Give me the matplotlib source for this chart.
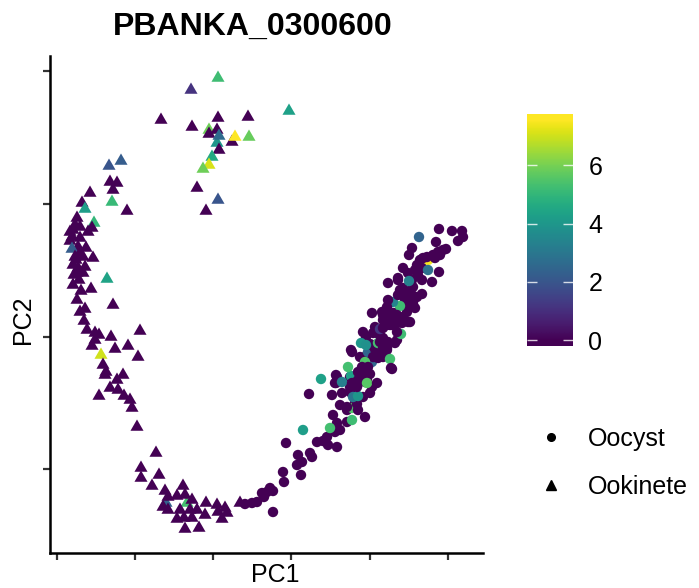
import numpy as np
import matplotlib
matplotlib.use("Agg")
import matplotlib.pyplot as plt
from matplotlib.colors import Normalize
from matplotlib.lines import Line2D
from matplotlib.path import Path

plt.rcParams['font.family'] = ['Liberation Sans', 'DejaVu Sans']

title = "PBANKA_0300600"
x_label = "PC1"
y_label = "PC2"
legend_labels = ["Oocyst", "Ookinete"]
cbar_ticks = [0, 2, 4, 6]
expr_max = 7.56

# Ookinete cells (triangles): PC1, PC2, expression
ookinete = [
    (20.9, -13.0, 5.9), (16.6, -50.3, 2.3), (18.7, -50.3, 5.3), (9.4, -22.3, 5.0),
    (21.8, -7.8, 5.2), (19.1, -9.0, 1.1), (16.1, -12.0, 0), (19.2, -12.7, 0), (21.8, -11.8, 0),
    (21.7, -13.0, 0), (20.9, -13.4, 0), (21.7, -14.3, 4.0), (21.9, -13.6, 2.6), (24.8, -11.7, 0),
    (28.9, -11.1, 4.3), (23.2, -14.2, 0), (23.5, -13.7, 7.56), (24.9, -13.7, 5.8), (21.9, -15.0, 0),
    (21.2, -15.7, 4.6), (20.9, -16.5, 7.1), (20.3, -16.9, 5.9), (19.7, -18.8, 0), (21.8, -20.0, 2.0),
    (20.6, -21.1, 0),
    (10.9, -16.6, 2.0), (12.1, -16.1, 2.2), (11.0, -18.2, 0), (11.7, -18.3, 0), (11.3, -19.0, 0),
    (9.0, -19.3, 0), (11.2, -20.2, 5.1), (8.2, -20.3, 0), (8.5, -20.9, 4.2), (12.7, -21.1, 0),
    (7.7, -21.8, 0), (7.5, -22.5, 0), (8.0, -22.7, 0), (9.2, -22.8, 0), (8.8, -23.2, 0),
    (7.3, -23.0, 0), (7.0, -23.2, 0), (7.2, -23.7, 0), (8.0, -23.8, 0), (7.0, -24.1, 0),
    (8.6, -24.8, 0), (7.8, -24.7, 0), (7.2, -24.9, 2.2), (8.0, -25.3, 0), (7.5, -25.7, 0),
    (8.3, -25.7, 0), (9.3, -25.8, 0), (7.6, -26.0, 0), (7.3, -26.5, 0), (7.8, -26.8, 0),
    (8.5, -26.7, 0), (7.7, -27.3, 0), (8.3, -27.3, 0), (7.4, -27.5, 0), (7.9, -28.0, 0),
    (10.7, -27.9, 4.4), (7.3, -28.5, 0), (8.1, -29.1, 0), (9.1, -28.9, 0), (7.7, -30.0, 0),
    (11.3, -30.5, 0), (8.5, -30.9, 0), (8.0, -31.2, 0), (8.4, -32.1, 0), (8.7, -33.0, 0),
    (9.5, -33.3, 0), (9.9, -33.5, 0), (9.5, -34.0, 0), (11.1, -33.7, 0), (9.2, -34.6, 0),
    (14.0, -33.1, 0), (11.5, -34.9, 0), (12.8, -34.6, 0), (13.8, -35.7, 0), (10.1, -35.5, 7.0),
    (10.3, -36.5, 0), (10.6, -37.2, 0), (10.5, -37.5, 0), (12.3, -37.5, 0), (11.7, -38.0, 0),
    (11.0, -38.8, 0), (11.8, -39.0, 0), (9.9, -39.6, 0), (12.4, -39.6, 0), (13.0, -40.0, 0),
    (13.2, -40.8, 0), (13.7, -42.7, 0),
    (15.6, -45.3, 0), (14.1, -46.8, 0), (15.9, -47.5, 0), (14.1, -47.8, 0), (15.2, -48.6, 0),
    (16.5, -49.1, 0), (18.3, -48.6, 0), (16.8, -49.7, 0), (17.7, -49.6, 0), (18.5, -49.5, 0),
    (19.2, -50.0, 0), (16.3, -50.7, 0), (16.8, -51.0, 0), (18.0, -51.0, 0), (19.0, -51.0, 0),
    (19.7, -51.0, 0), (20.6, -50.3, 0), (21.7, -50.5, 0), (22.5, -50.8, 0), (20.5, -51.5, 0),
    (21.8, -51.2, 0), (22.7, -51.3, 0), (17.7, -51.9, 0), (18.4, -51.8, 0), (19.2, -51.8, 0),
    (22.2, -51.9, 0), (18.5, -52.9, 0), (19.9, -52.8, 0), (24.0, -50.3, 0),
]

# Oocyst cells (circles): PC1, PC2, expression
oocyst = [
    (42.8, -26.0, 7.5), (36.5, -35.7, 6.5),
    (24.5, -50.4, 0), (25.2, -50.3, 0), (25.7, -50.2, 0), (26.2, -49.3, 0), (26.7, -49.2, 0),
    (27.3, -49.1, 0), (27.3, -51.2, 0), (27.0, -48.8, 0), (26.4, -49.7, 0), (28.3, -47.2, 0),
    (28.4, -48.2, 0), (30.1, -47.5, 0), (29.7, -46.5, 0), (30.2, -46.2, 0), (31.0, -45.3, 0),
    (31.2, -45.7, 0), (28.6, -44.3, 0), (29.8, -45.5, 0), (31.7, -44.2, 0), (32.3, -44.1, 0),
    (32.7, -43.7, 0), (32.8, -44.5, 0), (33.7, -44.7, 0), (30.3, -43.0, 4.2), (30.9, -39.4, 0),
    (32.1, -37.9, 4.3), (33.7, -37.7, 0), (33.5, -38.3, 0), (33.2, -39.5, 0), (34.2, -39.3, 0),
    (35.0, -38.7, 0), (36.0, -37.7, 0), (35.0, -37.7, 0), (34.0, -40.5, 0), (34.7, -41.0, 0),
    (33.3, -41.5, 0), (33.7, -42.3, 0), (33.5, -43.2, 0), (34.0, -43.0, 0), (33.0, -42.8, 5.3),
    (34.7, -42.2, 0), (35.5, -40.3, 0), (35.2, -40.8, 5.5), (35.2, -42.0, 5.2), (36.5, -41.7, 0),
    (35.8, -41.0, 0), (36.3, -39.7, 0), (36.7, -38.0, 0), (35.0, -39.2, 0), (37.0, -39.3, 0),
    (35.7, -40.4, 0), (34.7, -40.7, 0), (35.3, -39.7, 3.0), (35.8, -39.6, 4.0), (33.6, -37.5, 0),
    (36.0, -37.3, 0), (36.6, -37.3, 0), (37.0, -37.4, 0), (33.6, -38.3, 0), (35.1, -37.6, 4.3),
    (34.2, -38.2, 3.2), (35.2, -38.3, 0), (35.7, -38.7, 0), (36.5, -38.2, 0), (37.2, -38.7, 0),
    (35.8, -38.0, 0), (36.7, -38.3, 5.6), (34.8, -36.7, 5.3), (35.8, -37.2, 0),
    (35.2, -35.2, 0), (36.0, -35.7, 0), (36.7, -35.5, 0), (35.1, -35.0, 0), (36.8, -35.2, 2.5),
    (37.2, -36.2, 2.5), (37.8, -35.8, 0), (38.3, -35.7, 0), (38.7, -35.0, 0), (38.0, -35.0, 0),
    (38.7, -34.8, 0), (37.3, -35.7, 0), (38.0, -35.5, 0), (39.0, -35.9, 5.3), (39.1, -36.8, 0),
    (39.2, -36.9, 0), (37.7, -38.3, 0), (36.5, -36.2, 5.5), (36.8, -36.7, 0), (36.2, -36.7, 0),
    (36.3, -33.2, 0), (36.6, -33.7, 0), (37.2, -34.5, 0), (37.7, -34.5, 0), (37.5, -34.9, 0),
    (37.0, -34.4, 0), (36.1, -34.3, 4.0), (36.6, -34.5, 3.8), (37.8, -34.3, 5.3), (39.7, -34.0, 0),
    (38.8, -34.2, 0), (38.3, -34.8, 0), (39.5, -34.3, 0), (38.7, -34.3, 0), (38.0, -34.2, 0),
    (40.1, -33.4, 5.2), (39.7, -33.2, 0), (37.3, -33.3, 0), (38.0, -33.5, 0), (38.3, -33.8, 0),
    (37.7, -33.3, 0), (37.5, -32.7, 0), (38.0, -32.9, 1.2), (38.3, -32.8, 0), (39.0, -32.5, 0),
    (39.2, -32.5, 0), (38.7, -32.5, 0), (39.7, -32.3, 0), (40.2, -32.3, 0), (41.0, -32.2, 0),
    (40.0, -31.7, 0), (40.3, -31.8, 0), (39.2, -31.7, 0), (38.3, -32.0, 0), (37.2, -31.3, 0),
    (38.2, -31.2, 0), (38.5, -31.2, 0), (39.3, -31.3, 0), (39.5, -31.3, 0), (40.7, -31.2, 0),
    (40.8, -30.8, 0), (41.5, -30.8, 0), (41.3, -30.3, 0), (40.5, -30.0, 0), (41.0, -30.3, 0),
    (40.0, -30.6, 5.2), (39.3, -30.2, 3.4), (38.8, -30.0, 0), (38.7, -30.7, 0), (38.3, -31.5, 0),
    (39.7, -31.5, 0), (40.8, -32.2, 0), (39.8, -29.5, 0), (40.0, -29.0, 0), (40.7, -29.3, 0),
    (41.2, -29.5, 0), (41.3, -28.7, 0), (40.3, -28.8, 0), (42.2, -29.4, 0), (41.7, -29.7, 0),
    (39.8, -28.0, 0), (38.8, -28.3, 0), (39.8, -27.8, 0), (40.3, -26.8, 0), (40.8, -27.3, 0),
    (41.5, -27.0, 0), (41.8, -27.5, 0), (41.2, -28.0, 0), (42.2, -28.0, 0), (43.2, -28.2, 0),
    (40.9, -28.1, 3.3),
    (43.9, -22.9, 0), (45.2, -23.1, 0), (46.2, -23.1, 0), (46.3, -23.7, 0), (45.8, -24.1, 0),
    (41.9, -23.7, 2.4), (43.6, -24.2, 0), (44.6, -24.9, 0), (43.8, -25.2, 0), (41.2, -24.8, 0),
    (40.9, -25.5, 0), (42.0, -26.0, 0), (42.7, -25.7, 0), (43.3, -25.5, 0), (44.0, -25.5, 0),
    (44.3, -25.0, 0), (43.5, -25.8, 0), (42.3, -25.8, 0), (42.2, -26.8, 0), (41.7, -26.5, 0),
    (43.9, -27.2, 0), (42.8, -27.0, 2.8),
]

ook = np.array(ookinete)
ooc = np.array(oocyst)

W, H = 699, 588
fig = plt.figure(figsize=(W / 100, H / 100), dpi=100)
ax = fig.add_axes([50 / W, 1 - 553 / H, (483 - 50) / W, (553 - 56) / H])

norm = Normalize(0, expr_max)
cmap = plt.get_cmap('viridis')

tri = Path([(-1, -0.577), (1, -0.577), (0, 1.155), (-1, -0.577)],
           [Path.MOVETO, Path.LINETO, Path.LINETO, Path.CLOSEPOLY])

ax.scatter(ooc[:, 0], ooc[:, 1], c=ooc[:, 2], cmap=cmap, norm=norm, s=56,
           marker='o', linewidths=0)
ax.scatter(ook[:, 0], ook[:, 1], c=ook[:, 2], cmap=cmap, norm=norm, s=118,
           marker=tri, linewidths=0)

ax.set_xlim(5.0, 48.3)
ax.set_ylim(-55.3, -5.6)
ax.set_xticks([5.7, 13.5, 21.3, 29.1, 37.0, 44.8])
ax.set_yticks([-7.1, -20.4, -33.7, -46.9])
ax.set_xticklabels([])
ax.set_yticklabels([])
for s in ['top', 'right']:
    ax.spines[s].set_visible(False)
for s in ['left', 'bottom']:
    ax.spines[s].set_linewidth(1.8)
    ax.spines[s].set_color('black')
ax.tick_params(length=5, width=1.6, color='#333333', direction='out')

fig.text(275 / W, 1 - 563 / H, x_label, ha='center', va='top', fontsize=18)
fig.text(23 / W, 1 - 320 / H, y_label, ha='center', va='center', fontsize=18,
         rotation=90)
fig.text(253 / W, 1 - 27 / H, title, ha='center', va='center', fontsize=23,
         fontweight='bold')

# colorbar
d = expr_max * 0.5 / 19
cax = fig.add_axes([527 / W, 1 - 346 / H, 46 / W, 232 / H])
grad = np.linspace(0, expr_max, 20).reshape(-1, 1)
cax.imshow(grad, cmap=cmap, norm=norm, aspect='auto', origin='lower',
           extent=[0, 1, -d, expr_max + d], interpolation='bilinear')
cax.set_xlim(0, 1)
cax.set_ylim(-d, expr_max + d)
cax.hlines(cbar_ticks, 0, 0.21, colors='white', linewidth=1.0, alpha=0.8)
cax.hlines(cbar_ticks, 0.79, 1, colors='white', linewidth=1.0, alpha=0.8)
cax.set_xticks([])
cax.yaxis.tick_right()
cax.set_yticks(cbar_ticks)
cax.set_yticklabels([str(t) for t in cbar_ticks], fontsize=18)
cax.tick_params(axis='y', length=0, pad=11)
for s in cax.spines.values():
    s.set_visible(False)

handles = [Line2D([], [], marker='o', color='black', linestyle='', markersize=5.5),
           Line2D([], [], marker='^', color='black', linestyle='', markersize=6.5)]
fig.legend(handles, legend_labels, loc='upper left',
           bbox_to_anchor=(538 / W, 1 - 427 / H), bbox_transform=fig.transFigure,
           frameon=False, fontsize=18, handlelength=1.0, handletextpad=1.0,
           labelspacing=0.96, borderpad=0, borderaxespad=0)

fig.savefig('out.png', dpi=100)
